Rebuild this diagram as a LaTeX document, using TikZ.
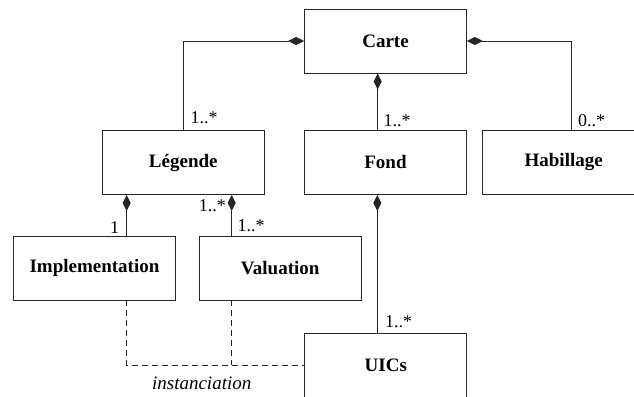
\documentclass[tikz,border=0pt]{standalone}
\usepackage{fontspec}
\setmainfont{Liberation Serif}
\usetikzlibrary{arrows.meta}
\begin{document}
\begin{tikzpicture}[x=1pt,y=1pt,
  cls/.style={draw=black!85,line width=0.9pt,minimum width=162pt,minimum height=64pt,inner sep=0pt,
    font=\fontsize{19}{22}\selectfont\bfseries},
  comp/.style={draw=black!85,line width=0.9pt,-{Diamond[length=16pt,width=8pt]}},
  dep/.style={draw=black!85,line width=0.9pt,dash pattern=on 6pt off 4pt},
  mult/.style={font=\fontsize{18}{20}\selectfont,inner sep=0pt}]
\useasboundingbox (0,0) rectangle (634,396);
\clip (0,0) rectangle (634,396);
\node[cls] (carte) at (385.5,355) {Carte};
\node[cls] (lg) at (183.3,233.5) {Légende};
\node[cls] (fond) at (385.5,233.5) {Fond};
\node[cls] (hab) at (563.7,233.5) {Habillage};
\node[cls] (impl) at (94.5,128) {Implementation};
\node[cls] (val) at (280.2,128) {Valuation};
\node[cls] (uics) at (385.8,31) {UICs};
% compositions
\draw[comp] (lg.north) |- (carte.west);
\draw[comp] (hab.north) ++(8,0) |- (carte.east);
\draw[comp] ([xshift=-7.8pt]fond.north) -- ([xshift=-7.8pt]fond.north |- carte.south);
\draw[comp] ([xshift=32.2pt]impl.north) -- ([xshift=32.2pt]impl.north |- lg.south);
\draw[comp] ([xshift=-48.5pt]val.north) -- ([xshift=-48.5pt]val.north |- lg.south);
\draw[comp] ([xshift=-8.5pt]uics.north) -- ([xshift=-8.5pt]uics.north |- fond.south);
% dependencies
\draw[dep] ([xshift=32.2pt]impl.south) |- (uics.west);
\draw[dep] ([xshift=-48.5pt]val.south) -- ([xshift=-48.5pt]val.south |- uics.west);
% multiplicities
\node[mult,anchor=base west] (m1) at ([xshift=7pt,yshift=7pt]lg.north) {1..*};
\node[mult,anchor=base west] (m2) at ([xshift=-2pt,yshift=4pt]fond.north) {1..*};
\node[mult,anchor=base west] (m3) at ([xshift=14.3pt,yshift=4pt]hab.north) {0..*};
\node[mult,anchor=base east] (m4) at ([xshift=24.8pt,yshift=2.5pt]impl.north) {1};
\node[mult,anchor=base west] (m5) at ([xshift=-42.9pt,yshift=4pt]val.north) {1..*};
\node[mult,anchor=base east] (m6) at ([xshift=-54.2pt,yshift=-16.7pt]val.north |- lg.south) {1..*};
\node[mult,anchor=base west] (m7) at ([xshift=-0.8pt,yshift=5pt]uics.north) {1..*};
\node[font=\fontsize{19}{22}\selectfont\itshape,inner sep=0pt,anchor=base] (inst) at (201.7,7) {instanciation};
\end{tikzpicture}
\end{document}
